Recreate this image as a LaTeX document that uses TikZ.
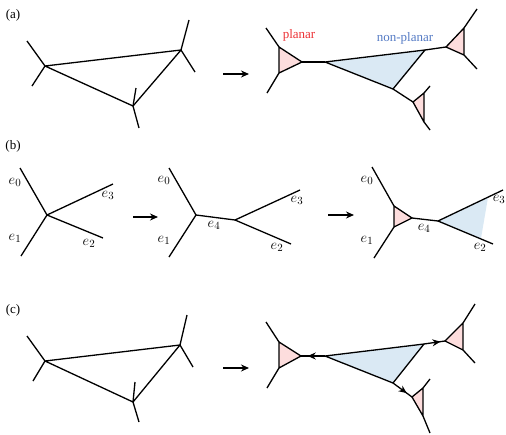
\documentclass[tikz,border=0pt]{standalone}
\usepackage{fontspec}
\setmainfont{Liberation Serif}
\usepackage{xcolor}
\definecolor{planarpink}{RGB}{253,221,221}
\definecolor{nonplanarblue}{RGB}{218,233,244}
\definecolor{planartxt}{RGB}{236,48,52}
\definecolor{nonplanartxt}{RGB}{84,122,196}
\usetikzlibrary{arrows.meta, calc, decorations.markings}

\begin{document}
\begin{tikzpicture}[
    x=1pt, y=-1pt,
    >={Stealth[length=8pt, width=7pt]},
    every node/.style={font=\fontsize{13}{15}\selectfont, inner sep=1pt},
    elab/.style={font=\fontsize{15}{17}\selectfont},
    edge/.style={line width=1.3pt, line join=round},
    pface/.style={draw, line width=1.3pt, fill=planarpink, line join=round},
    bface/.style={draw, line width=1.3pt, fill=nonplanarblue, line join=round},
    midarr/.style={postaction={decorate},
                   decoration={markings, mark=at position #1 with {\arrow{>}}}},
  ]
    \useasboundingbox (0,0) rectangle (506,434);

    % (a) 左
    \node (lba) at (13,15) {(a)};
    \coordinate (aA)  at (45,66);
    \coordinate (aB)  at (181,50);
    \coordinate (aC)  at (133,106);
    \coordinate (aA1) at (27,41);
    \coordinate (aA2) at (32,86);
    \coordinate (aB1) at (189,20);
    \coordinate (aB2) at (195,72);
    \coordinate (aC1) at (136,88);
    \coordinate (aC2) at (139,128);
    \draw[edge] (aA) -- (aB) -- (aC) -- cycle;
    \draw[edge] (aA1) -- (aA) -- (aA2);
    \draw[edge] (aB1) -- (aB) -- (aB2);
    \draw[edge] (aC1) -- (aC) -- (aC2);

    % (a) 箭头
    \coordinate (arA0) at (223,74);
    \coordinate (arA1) at (249,74);
    \draw[edge, ->] (arA0) -- (arA1);

    % (a) 右
    \coordinate (apL1) at (279,47);
    \coordinate (apL2) at (302,62);
    \coordinate (apL3) at (279,73);
    \coordinate (apL4) at (266,28);
    \coordinate (apL5) at (267,93);
    \coordinate (ab1)  at (325,62);
    \coordinate (ab2)  at (425,50);
    \coordinate (ab3)  at (393,89);
    \coordinate (apR1) at (446,47);
    \coordinate (apR2) at (464,28);
    \coordinate (apR3) at (464,55);
    \coordinate (apR4) at (477,9);
    \coordinate (apR5) at (477,69);
    \coordinate (apB1) at (413,102);
    \coordinate (apB2) at (424,93);
    \coordinate (apB3) at (424,122);
    \coordinate (apB4) at (430,86);
    \coordinate (apB5) at (430,130);
    \draw[bface] (ab1) -- (ab2) -- (ab3) -- cycle;
    \draw[pface] (apL1) -- (apL2) -- (apL3) -- cycle;
    \draw[pface] (apR1) -- (apR2) -- (apR3) -- cycle;
    \draw[pface] (apB1) -- (apB2) -- (apB3) -- cycle;
    \draw[edge] (apL4) -- (apL1);
    \draw[edge] (apL5) -- (apL3);
    \draw[edge] (apL2) -- (ab1);
    \draw[edge] (ab2) -- (apR1);
    \draw[edge] (ab3) -- (apB1);
    \draw[edge] (apR2) -- (apR4);
    \draw[edge] (apR3) -- (apR5);
    \draw[edge] (apB2) -- (apB4);
    \draw[edge] (apB3) -- (apB5);
    \node[text=planartxt]    (planar)    at (299,35) {planar};
    \node[text=nonplanartxt] (nonplanar) at (405,38) {non-planar};

    % (b) 左
    \node (lbb) at (13,146) {(b)};
    \coordinate (bO)  at (47,215);
    \coordinate (bE0) at (20,168);
    \coordinate (bE1) at (21,256);
    \coordinate (bE2) at (103,238);
    \coordinate (bE3) at (113,184);
    \draw[edge] (bO) -- (bE0);
    \draw[edge] (bO) -- (bE1);
    \draw[edge] (bO) -- (bE2);
    \draw[edge] (bO) -- (bE3);
    \node[elab] (le0a) at (15,182) {$e_0$};
    \node[elab] (le1a) at (15,238) {$e_1$};
    \node[elab] (le2a) at (89,243) {$e_2$};
    \node[elab] (le3a) at (108,195) {$e_3$};

    % (b) 箭头
    \coordinate (arB0) at (133,217);
    \coordinate (arB1) at (158,217);
    \draw[edge, ->] (arB0) -- (arB1);

    % (b) 中
    \coordinate (bmL)  at (196,215);
    \coordinate (bmR)  at (235,220);
    \coordinate (bmE0) at (169,168);
    \coordinate (bmE1) at (169,257);
    \coordinate (bmE2) at (291,244);
    \coordinate (bmE3) at (300,190);
    \draw[edge] (bmE0) -- (bmL) -- (bmE1);
    \draw[edge] (bmL) -- (bmR);
    \draw[edge] (bmE3) -- (bmR) -- (bmE2);
    \node[elab] (le0b) at (164,180) {$e_0$};
    \node[elab] (le1b) at (164,240) {$e_1$};
    \node[elab] (le4b) at (214,225) {$e_4$};
    \node[elab] (le2b) at (277,247) {$e_2$};
    \node[elab] (le3b) at (297,200) {$e_3$};

    % (b) 箭头
    \coordinate (arC0) at (328,215);
    \coordinate (arC1) at (354,215);
    \draw[edge, ->] (arC0) -- (arC1);

    % (b) 右
    \coordinate (brP1) at (394,206);
    \coordinate (brP2) at (412,218);
    \coordinate (brP3) at (394,227);
    \coordinate (brV)  at (438,221);
    \coordinate (brE0) at (372,167);
    \coordinate (brE1) at (374,258);
    \coordinate (brE2) at (493,244);
    \coordinate (brE3) at (503,190);
    \fill[nonplanarblue] (brV) -- ($(brV)!0.77!(brE3)$) -- ($(brV)!0.78!(brE2)$) -- cycle;
    \draw[pface] (brP1) -- (brP2) -- (brP3) -- cycle;
    \draw[edge] (brE0) -- (brP1);
    \draw[edge] (brE1) -- (brP3);
    \draw[edge] (brP2) -- (brV);
    \draw[edge] (brE3) -- (brV) -- (brE2);
    \node[elab] (le0c) at (367,180) {$e_0$};
    \node[elab] (le1c) at (367,240) {$e_1$};
    \node[elab] (le4c) at (424,228) {$e_4$};
    \node[elab] (le2c) at (480,247) {$e_2$};
    \node[elab] (le3c) at (499,199) {$e_3$};

    % (c) 左
    \node (lbc) at (13,310) {(c)};
    \coordinate (cA)  at (45,361);
    \coordinate (cB)  at (180,345);
    \coordinate (cC)  at (133,402);
    \coordinate (cA1) at (27,336);
    \coordinate (cA2) at (33,381);
    \coordinate (cB1) at (187,315);
    \coordinate (cB2) at (193,367);
    \coordinate (cC1) at (135,382);
    \coordinate (cC2) at (139,422);
    \draw[edge] (cA) -- (cB) -- (cC) -- cycle;
    \draw[edge] (cA1) -- (cA) -- (cA2);
    \draw[edge] (cB1) -- (cB) -- (cB2);
    \draw[edge] (cC1) -- (cC) -- (cC2);

    % (c) 箭头
    \coordinate (arD0) at (223,368);
    \coordinate (arD1) at (249,368);
    \draw[edge, ->] (arD0) -- (arD1);

    % (c) 右
    \coordinate (cpL1) at (279,342);
    \coordinate (cpL2) at (301,356);
    \coordinate (cpL3) at (279,368);
    \coordinate (cpL4) at (266,322);
    \coordinate (cpL5) at (267,388);
    \coordinate (cb1)  at (325,356);
    \coordinate (cb2)  at (424,344);
    \coordinate (cb3)  at (393,383);
    \coordinate (cpR1) at (445,341);
    \coordinate (cpR2) at (463,323);
    \coordinate (cpR3) at (463,350);
    \coordinate (cpR4) at (475,304);
    \coordinate (cpR5) at (475,363);
    \coordinate (cpB1) at (412,397);
    \coordinate (cpB2) at (423,388);
    \coordinate (cpB3) at (423,416);
    \coordinate (cpB4) at (430,379);
    \coordinate (cpB5) at (430,433);
    \draw[bface] (cb1) -- (cb2) -- (cb3) -- cycle;
    \draw[pface] (cpL1) -- (cpL2) -- (cpL3) -- cycle;
    \draw[pface] (cpR1) -- (cpR2) -- (cpR3) -- cycle;
    \draw[pface] (cpB1) -- (cpB2) -- (cpB3) -- cycle;
    \draw[edge] (cpL4) -- (cpL1);
    \draw[edge] (cpL5) -- (cpL3);
    \draw[edge, midarr=0.72] (cb1) -- (cpL2);
    \draw[edge, midarr=0.78] (cb2) -- (cpR1);
    \draw[edge, midarr=0.72] (cb3) -- (cpB1);
    \draw[edge] (cpR2) -- (cpR4);
    \draw[edge] (cpR3) -- (cpR5);
    \draw[edge] (cpB2) -- (cpB4);
    \draw[edge] (cpB3) -- (cpB5);
  \end{tikzpicture}
\end{document}
